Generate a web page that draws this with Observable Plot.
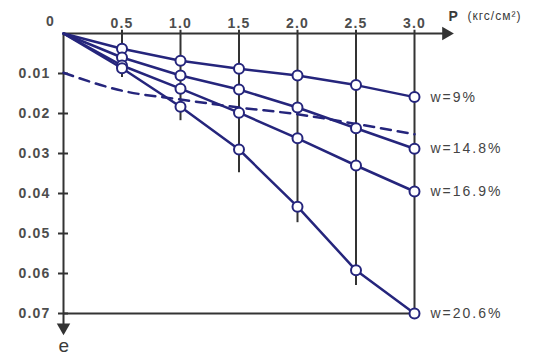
<!DOCTYPE html>
<html>
<head>
<meta charset="utf-8">
<script src="https://cdn.jsdelivr.net/npm/d3@7"></script>
<script src="https://cdn.jsdelivr.net/npm/@observablehq/plot@0.6"></script>
<style>
  html, body { margin: 0; padding: 0; background: #fff; }
  #chart svg { display: block; }
  #chart svg text { letter-spacing: 1.2px; }
  #chart svg g.wlabel text { letter-spacing: 2px; }
  #chart svg g.punit text { letter-spacing: 1px; }
</style>
</head>
<body>
<div id="chart"></div>
<script>
// Pressure P (кгс/см²)
const P = [0, 0.5, 1.0, 1.5, 2.0, 2.5, 3.0];
// Relative deformation e for each moisture w
const seriesNames = ["w=9%", "w=14.8%", "w=16.9%", "w=20.6%"];
const w9  = [0, 0.0038, 0.0068, 0.0088, 0.0105, 0.0129, 0.0159];
const w148 = [0, 0.0060, 0.0105, 0.0140, 0.0185, 0.0237, 0.0288];
const w169 = [0, 0.0080, 0.0138, 0.0198, 0.0262, 0.0330, 0.0395];
const w206 = [0, 0.0087, 0.0183, 0.0290, 0.0433, 0.0592, 0.0700];
// dashed curve
const dashP = [0, 0.5, 1.0, 1.5, 2.0, 2.5, 3.0];
const dashE = [0.0098, 0.0143, 0.0165, 0.0185, 0.0202, 0.0226, 0.0252];
// vertical lines (spread) at each load: from top to lower end
const gridP = [0.5, 1.0, 1.5, 2.0, 2.5, 3.0];
const gridBottom = [0.0110, 0.0218, 0.0348, 0.0473, 0.0630, 0.0700];
const gridTop = -0.0008;
// tick labels
const xTicks = [0.5, 1.0, 1.5, 2.0, 2.5, 3.0];
const yTicks = [0.01, 0.02, 0.03, 0.04, 0.05, 0.06, 0.07];
const xAxisEnd = 3.27;
const yAxisEnd = 0.0735;

const allSeries = [w9, w148, w169, w206];
const rows = [];
allSeries.forEach((vals, s) => P.forEach((p, i) => rows.push({P: p, e: vals[i], series: seriesNames[s]})));
const points = rows.filter(d => d.P > 0);
const labels = allSeries.map((vals, s) => ({P: P[P.length - 1], e: vals[vals.length - 1], series: seriesNames[s]}));
const dash = dashP.map((p, i) => ({P: p, e: dashE[i]}));
const grid = gridP.map((p, i) => ({P: p, top: gridTop, bottom: gridBottom[i]}));

const navy = "#25257c";
const axisColor = "#333";
const tickText = "#4d4d4d";

const chart = Plot.plot({
  width: 537,
  height: 356,
  marginLeft: 63,
  marginRight: 123,
  marginTop: 33,
  marginBottom: 43,
  x: {domain: [0, 3], label: null},
  y: {domain: [0, 0.07], reverse: true, label: null},
  style: {fontFamily: "'Liberation Sans', Arial, sans-serif", background: "#fff", overflow: "visible"},
  marks: [
    // vertical lines
    Plot.ruleX(grid, {x: "P", y1: "top", y2: "bottom", stroke: axisColor, strokeWidth: 2}),
    // bottom frame line
    Plot.ruleY([0.07], {x1: 0, x2: 3, stroke: axisColor, strokeWidth: 2}),
    // axes lines
    Plot.ruleY([0], {x1: 0, x2: xAxisEnd, stroke: axisColor, strokeWidth: 2}),
    Plot.ruleX([0], {y1: 0, y2: yAxisEnd, stroke: axisColor, strokeWidth: 2}),
    Plot.dot([0], {x: xAxisEnd, y: 0, symbol: "triangle", rotate: 90, r: 5, fill: axisColor, stroke: "none"}),
    Plot.dot([0], {x: 0, y: yAxisEnd, symbol: "triangle", rotate: 180, r: 5, fill: axisColor, stroke: "none"}),
    // axes
    Plot.axisX(xTicks, {anchor: "top", tickSize: 0, tickPadding: 6, tickFormat: d => d.toFixed(1),
      fontSize: 14, fontWeight: "bold", fill: tickText}),
    Plot.axisY(yTicks, {anchor: "left", tickSize: 0, tickPadding: 13, tickFormat: d => d.toFixed(2),
      fontSize: 14, fontWeight: "bold", fill: tickText}),
    Plot.axisY(yTicks, {anchor: "left", tickSize: 10, dx: 5, tickFormat: () => "", stroke: axisColor, strokeWidth: 2}),
    Plot.text(["0"], {x: 0, y: 0, dx: -13, dy: -12, text: d => d, fontSize: 14, fontWeight: "bold", fill: tickText}),
    // dashed curve
    Plot.line(dash, {x: "P", y: "e", curve: "monotone-x", stroke: navy, strokeWidth: 2.5, strokeDasharray: "10,7"}),
    // series
    Plot.line(rows, {x: "P", y: "e", z: "series", stroke: navy, strokeWidth: 2.5}),
    Plot.dot(points, {x: "P", y: "e", r: 5, fill: "white", stroke: navy, strokeWidth: 2}),
    Plot.text(labels, {x: "P", y: "e", text: "series", dx: 16, textAnchor: "start", fontSize: 14, fill: "#444", className: "wlabel"}),
    // axis titles
    Plot.text(["P"], {x: 3, y: 0, dx: 34, dy: -17, text: d => d, textAnchor: "start", fontSize: 14, fontWeight: "bold", fill: "#3a3a3a"}),
    Plot.text(["(кгс/см²)"], {x: 3, y: 0, dx: 53, dy: -17, text: d => d, textAnchor: "start", fontSize: 12, fill: "#3a3a3a", className: "punit"}),
    Plot.text(["e"], {x: 0, y: 0.07, dx: 1, dy: 32, text: d => d, fontSize: 19, fill: "#3a3a3a"})
  ]
});
document.getElementById("chart").appendChild(chart);
</script>
</body>
</html>
